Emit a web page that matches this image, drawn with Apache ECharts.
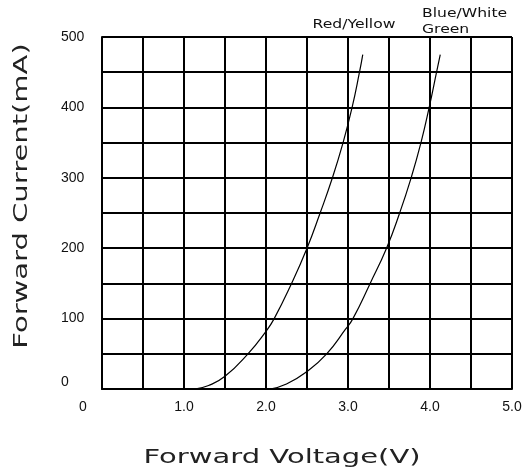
<!DOCTYPE html>
<html>
<head>
<meta charset="utf-8">
<script src="https://cdn.jsdelivr.net/npm/echarts@6/dist/echarts.min.js"></script>
<style>html,body{margin:0;padding:0;background:#fff;}#c{width:525px;height:473px;}</style>
</head>
<body>
<div id="c"></div>
<script>
const redYellow = [[1.13,0],[1.3,5],[1.5,18],[1.78,50],[2.0,82],[2.1,100],[2.3,147],[2.5,200],[2.66,250],[2.81,300],[2.94,350],[3.05,400],[3.14,450],[3.18,475]];
const blueWhiteGreen = [[2.05,0],[2.25,7],[2.5,25],[2.74,50],[2.97,85],[3.06,100],[3.27,150],[3.47,200],[3.63,250],[3.77,300],[3.89,350],[3.99,400],[4.08,450],[4.125,475]];
const xTickLabels = {0:'0',1:'1.0',2:'2.0',3:'3.0',4:'4.0',5:'5.0'};
const yTickLabels = {0:'0',100:'100',200:'200',300:'300',400:'400',500:'500'};
const seriesNames = ['Red/Yellow','Blue/White\nGreen'];

const chart = echarts.init(document.getElementById('c'), null, {renderer:'canvas'});
const font = 'DejaVu Sans';
chart.setOption({
  animation:false,
  backgroundColor:'#fff',
  grid:{left:102, top:37, width:410, height:352},
  xAxis:{type:'value', min:0, max:5, interval:0.5,
    axisLine:{show:true, lineStyle:{color:'#000', width:2}},
    axisTick:{show:false},
    splitLine:{show:true, lineStyle:{color:'#000', width:2}},
    axisLabel:{margin:11, color:'#111', fontFamily:'Liberation Sans', fontSize:14,
      formatter:function(v){ const k=Math.round(v*10)/10; if(k===0) return '{z|0}'; return xTickLabels[k]||''; },
      rich:{z:{padding:[0,38,0,0], fontFamily:'Liberation Sans', fontSize:14, color:'#111'}},
      showMaxLabel:true, showMinLabel:true}
  },
  yAxis:{type:'value', min:0, max:500, interval:50,
    axisLine:{show:true, lineStyle:{color:'#000', width:2}},
    axisTick:{show:false},
    splitLine:{show:true, lineStyle:{color:'#000', width:2}},
    axisLabel:{margin:41, align:'left', color:'#111', fontFamily:'Liberation Sans', fontSize:14,
      formatter:function(v){ if(v===0) return '{z|0}'; return yTickLabels[v]||''; },
      rich:{z:{padding:[0,0,14,0], fontFamily:'Liberation Sans', fontSize:14, color:'#111'}}}
  },
  series:[
    {name:seriesNames[0], type:'line', data:redYellow, smooth:0.5, symbol:'none', lineStyle:{color:'#000', width:1.2}},
    {name:seriesNames[1], type:'line', data:blueWhiteGreen, smooth:0.5, symbol:'none', lineStyle:{color:'#000', width:1.2}}
  ],
  graphic:[
    {type:'text', x:282, y:458, scaleX:1.45,
      style:{text:'Forward Voltage(V)', font:'20px "'+font+'"', fill:'#222', textAlign:'center', textVerticalAlign:'middle'}},
    {type:'text', x:22, y:196, rotation:Math.PI/2, scaleX:1.45,
      style:{text:'Forward Current(mA)', font:'20px "'+font+'"', fill:'#222', textAlign:'center', textVerticalAlign:'middle'}},
    {type:'text', x:354, y:25, scaleX:1.2,
      style:{text:'Red/Yellow', font:'13px "'+font+'"', fill:'#111', textAlign:'center', textVerticalAlign:'middle'}},
    {type:'text', x:422, y:14, scaleX:1.2,
      style:{text:'Blue/White', font:'13px "'+font+'"', fill:'#111', textAlign:'left', textVerticalAlign:'middle'}},
    {type:'text', x:422, y:30, scaleX:1.2,
      style:{text:'Green', font:'13px "'+font+'"', fill:'#111', textAlign:'left', textVerticalAlign:'middle'}}
  ]
});
</script>
</body>
</html>
